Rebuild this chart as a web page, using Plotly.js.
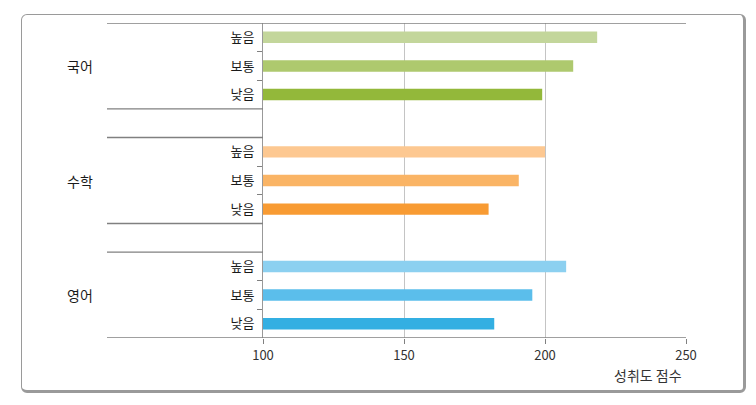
<!DOCTYPE html>
<html>
<head>
<meta charset="utf-8">
<script src="https://cdn.plot.ly/plotly-3.0.1.min.js"></script>
<style>
  html, body { margin: 0; padding: 0; background: #fff; }
  #wrap { position: relative; width: 756px; height: 405px; }
  #frame { position: absolute; left: 21px; top: 14px; width: 721px; height: 375px;
           border: 1.5px solid #9a9a9a; border-right-width: 3px; border-bottom-width: 3.5px;
           border-radius: 6px; box-sizing: content-box; }
  #chart { position: absolute; left: 0; top: 0; width: 756px; height: 405px; }
</style>
</head>
<body>
<div id="wrap"><div id="frame"></div><div id="chart"></div></div>
<script>
// ---- data ----
const subjects = ['국어', '수학', '영어'];
const levels = ['높음', '보통', '낮음'];
const korean = [218.5, 210, 199];
const math = [200, 190.7, 180];
const english = [207.5, 195.5, 182];
const axisTitle = '성취도 점수';
const xTicks = [100, 150, 200, 250];

const colors = [
  ['#c3d69b', '#aec96e', '#93b83a'],
  ['#fdc891', '#fab465', '#f89b33'],
  ['#8cd0f0', '#5bbeeb', '#33afe2']
];
const seriesVals = [korean, math, english];

const slot = (s, l) => s * 4 + l;

const traces = seriesVals.map((vals, s) => ({
  type: 'bar',
  orientation: 'h',
  name: subjects[s],
  x: vals,
  y: levels.map((_, l) => slot(s, l)),
  width: 0.4,
  marker: { color: colors[s], line: { width: 0 } },
  hoverinfo: 'x',
  showlegend: false
}));

const tickvals = [], ticktext = [], minorTicks = [];
subjects.forEach((_, s) => levels.forEach((lv, l) => {
  tickvals.push(slot(s, l)); ticktext.push(lv);
  if (l < levels.length - 1) minorTicks.push(slot(s, l) + 0.5);
}));

const plotL = 263, plotR = 686, plotT = 23, plotB = 338;
const pw = plotR - plotL, ph = plotB - plotT;
const leftX = (107 - plotL) / pw;
const lineColor = '#808080';

const shapes = [];
const fullLines = [-0.5, slot(subjects.length - 1, levels.length - 1) + 0.5];
fullLines.forEach(y => shapes.push({ type: 'line', xref: 'paper', yref: 'y', x0: leftX, x1: 1, y0: y, y1: y,
  line: { color: lineColor, width: 1.4 } }));
for (let s = 0; s < subjects.length - 1; s++) {
  [slot(s, levels.length - 1) + 0.5, slot(s + 1, 0) - 0.5].forEach(y =>
    shapes.push({ type: 'line', xref: 'paper', yref: 'y', x0: leftX, x1: 0, y0: y, y1: y,
      line: { color: lineColor, width: 1.4 } }));
}

const annotations = subjects.map((name, s) => ({
  xref: 'paper', yref: 'y', x: (80 - plotL) / pw, y: slot(s, 1),
  text: name, showarrow: false, xanchor: 'center', yanchor: 'middle',
  font: { family: 'Noto Sans CJK KR', size: 14, color: '#1a1a1a' }
}));
annotations.push({
  xref: 'paper', yref: 'paper', x: (684 - plotL) / pw, y: -(375 - plotB) / ph,
  text: axisTitle, showarrow: false, xanchor: 'right', yanchor: 'middle',
  font: { family: 'Noto Sans CJK KR', size: 14, color: '#333' }
});

const layout = {
  width: 756, height: 405,
  margin: { l: plotL, r: 756 - plotR, t: plotT, b: 405 - plotB, pad: 0 },
  paper_bgcolor: 'rgba(0,0,0,0)', plot_bgcolor: 'rgba(0,0,0,0)',
  barmode: 'overlay',
  xaxis: {
    range: [100, 250], tickmode: 'array', tickvals: xTicks,
    showgrid: false, zeroline: false, showline: false,
    ticks: 'outside', ticklen: 5, tickcolor: lineColor, tickwidth: 1,
    tickfont: { family: 'Noto Sans CJK KR', size: 13, color: '#333' },
    minor: { tickmode: 'array', tickvals: [150, 200], showgrid: true, gridcolor: '#c4c4c4', gridwidth: 1, ticks: '' }
  },
  yaxis: {
    range: [fullLines[1], -0.5], tickmode: 'array', tickvals: tickvals, ticktext: ticktext,
    showgrid: false, zeroline: false, showline: true, linecolor: '#999', linewidth: 1,
    ticks: '', ticklabelstandoff: 5,
    tickfont: { family: 'Noto Sans CJK KR', size: 13, color: '#1a1a1a' },
    minor: { tickmode: 'array', tickvals: minorTicks, ticks: 'outside', ticklen: 5, tickcolor: lineColor, showgrid: false }
  },
  shapes: shapes,
  annotations: annotations
};

Plotly.newPlot('chart', traces, layout, { displayModeBar: false, staticPlot: true });
</script>
</body>
</html>
